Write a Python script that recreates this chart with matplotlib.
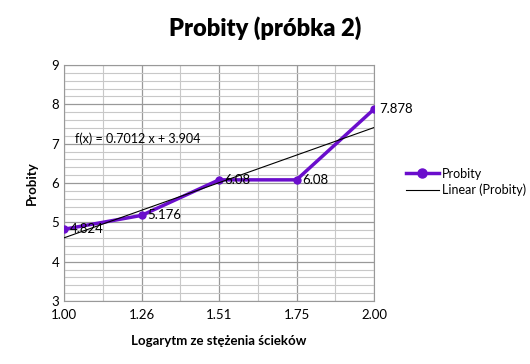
import matplotlib.pyplot as plt
import numpy as np
from matplotlib.ticker import MultipleLocator

plt.rcParams["font.family"] = ["Lato", "DejaVu Sans"]

categories = ["1.00", "1.26", "1.51", "1.75", "2.00"]
probity = [4.824, 5.176, 6.08, 6.08, 7.878]

LINE_COLOR = "#6a0dcc"

x = np.arange(1, len(categories) + 1)
slope, intercept = np.polyfit(x, probity, 1)

fig = plt.figure(figsize=(5.3, 3.64), dpi=100)
ax = fig.add_axes([0.1208, 0.1731, 0.5849, 0.6483])

ax.plot(x, probity, color=LINE_COLOR, lw=2.5, marker="o", ms=5,
        label="Probity", zorder=3)
ax.plot(x, slope * x + intercept, color="black", lw=0.8,
        label="Linear (Probity)", zorder=4)

for xi, yi in zip(x, probity):
    ax.annotate(f"{yi:g}", (xi, yi), xytext=(4, 0), textcoords="offset points",
                ha="left", va="center", fontsize=9.5, zorder=5)

ax.text(1.14, 7.12, f"f(x) = {slope:.4f} x + {intercept:.3f}",
        ha="left", va="center", fontsize=9)

ax.set_xlim(1, 5)
ax.set_ylim(3, 9)
ax.set_xticks(x)
ax.set_xticklabels(categories)
ax.xaxis.set_minor_locator(MultipleLocator(0.5))
ax.yaxis.set_major_locator(MultipleLocator(1))
ax.yaxis.set_minor_locator(MultipleLocator(0.2))
ax.grid(which="major", color="#999999", lw=0.9)
ax.grid(which="minor", color="#c8c8c8", lw=0.8)
ax.set_axisbelow(True)
ax.tick_params(which="both", length=0, labelsize=9.5)
ax.tick_params(axis="x", pad=6)
for s in ax.spines.values():
    s.set_color("#999999")

ax.set_xlabel("Logarytm ze stężenia ścieków", fontsize=9.5, fontweight="bold",
              labelpad=10)
ax.set_ylabel("Probity", fontsize=9.5, fontweight="bold", labelpad=10)

fig.suptitle("Probity (próbka 2)", fontsize=17, fontweight="heavy",
             x=0.5, y=0.955)

fig.legend(loc="center left", bbox_to_anchor=(0.745, 0.5), frameon=False,
           fontsize=9, handlelength=2.6, labelspacing=0.3, handletextpad=0.3,
           markerscale=1.3)

fig.savefig("out.png", dpi=100)
